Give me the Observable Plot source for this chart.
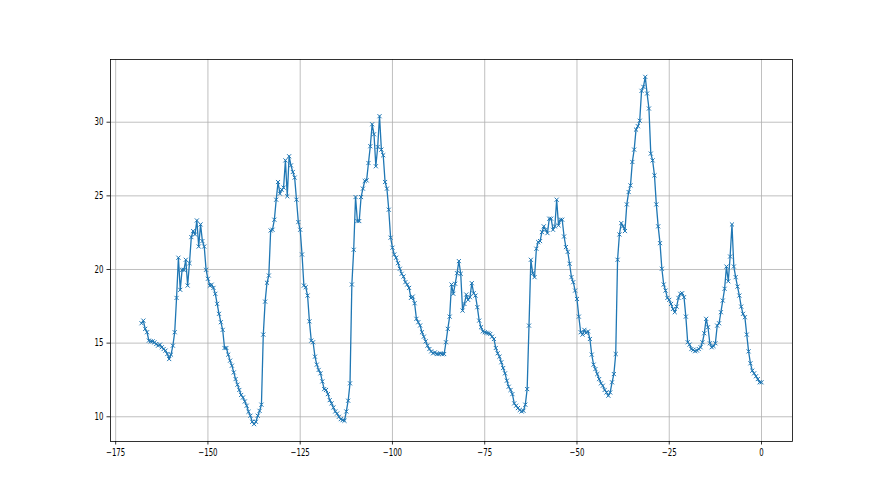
<!DOCTYPE html>
<html>
<head>
<meta charset="utf-8">
<script src="https://cdn.jsdelivr.net/npm/d3@7"></script>
<script src="https://cdn.jsdelivr.net/npm/@observablehq/plot@0.6"></script>
<style>
  html, body { margin: 0; padding: 0; background: #fff; }
  #chart { width: 880px; height: 495px; }
</style>
</head>
<body>
<div id="chart"></div>
<script>
// x positions: hours before now, every half hour
const startHour = -168;
const stepHour = 0.5;

// tick labels
const xTicks = [-175, -150, -125, -100, -75, -50, -25, 0];
const yTicks = [10, 15, 20, 25, 30];

// series values, segment by segment
const seg1 = [16.35, 16.53, 15.97, 15.74, 15.17, 15.12, 15.12, 15.05, 14.94, 14.83, 14.9, 14.72, 14.6, 14.49, 14.26, 13.92, 14.22, 14.83, 15.74, 18.07, 20.8, 18.62, 19.98, 19.98, 20.66, 18.91, 20.43, 22.2, 22.61, 22.38, 23.33, 21.56, 23.06, 21.93, 21.56];
const seg2 = [19.98, 19.37, 18.9, 18.97, 18.75, 18.35, 17.67, 16.99, 16.42, 15.9, 14.67, 14.67, 14.22, 13.81, 13.47, 13.01, 12.56, 12.18, 11.82, 11.48, 11.31, 11.04, 10.75, 10.34, 10.07, 9.66, 9.5, 9.66, 10.07, 10.4, 10.82, 15.58, 17.82, 19.1, 19.59, 22.65];
const seg3 = [22.7, 23.38, 24.74, 25.94, 25.15, 25.42, 25.56, 27.41, 24.97, 27.69, 27.07, 26.62, 26.24, 24.74, 23.22, 22.7, 21.02, 18.91, 18.8, 18.23, 16.48, 15.17, 15.06, 14.08, 13.54, 13.18, 12.95, 12.4, 11.88, 11.82, 11.54, 11.13, 10.91, 10.63, 10.36, 10.22, 10.0, 9.84, 9.77];
const seg4 = [9.73, 10.36, 11.09, 12.27, 18.98, 21.34, 24.92, 23.29, 23.29, 24.92, 25.49, 26.01, 26.05, 27.23, 28.37, 29.86, 29.18, 27.01, 28.32, 30.41, 28.14, 27.76, 25.94, 25.49, 24.06, 22.16, 21.48, 21.02, 20.8, 20.43, 20.05, 19.71, 19.52, 19.14, 18.98, 18.75, 18.07, 18.16, 17.71, 16.65, 16.42, 16.2];
const seg5 = [15.74, 15.44, 15.12, 14.83, 14.6, 14.44, 14.31, 14.37, 14.26, 14.26, 14.31, 14.26, 14.26, 15.06, 15.97, 16.8, 18.98, 18.35, 19.03, 19.75, 20.57, 19.71, 17.21, 17.66, 18.3, 17.94, 18.12, 19.07, 18.39, 18.23, 17.44, 16.53, 16.08, 15.8, 15.74, 15.7, 15.67, 15.62, 15.44, 15.28, 14.67, 14.31, 14.08, 13.7];
const seg6 = [13.31, 12.95, 12.45, 12.04, 11.82, 11.54, 10.91, 10.75, 10.59, 10.46, 10.36, 10.41, 10.82, 11.88, 16.19, 20.66, 19.75, 19.48, 21.41, 21.86, 21.93, 22.54, 22.93, 22.7, 22.47, 23.45, 23.45, 22.7, 22.93, 24.74, 23.0, 23.38, 23.38, 22.24, 21.52, 21.2];
const seg7 = [20.39, 19.48, 19.14, 18.57, 18.0, 16.8, 15.74, 15.58, 15.9, 15.7, 15.8, 15.28, 14.22, 13.54, 13.24, 12.9, 12.56, 12.27, 12.11, 11.82, 11.65, 11.43, 11.65, 12.34, 12.9, 14.26, 20.66, 22.38, 23.15, 22.93, 22.61, 24.42, 25.26, 25.71, 27.3, 28.14, 29.5, 29.73, 30.1, 32.13, 32.4, 33.08];
const seg8 = [31.95, 30.93, 27.87, 27.41, 26.39, 24.42, 22.93, 21.79, 20.05, 18.98, 18.57, 18.07, 17.94, 17.66, 17.32, 17.1, 17.48, 18.07, 18.35, 18.39, 18.12, 16.8, 15.06, 14.9, 14.6, 14.54, 14.45, 14.5, 14.6];
const seg9 = [14.72, 15.06, 15.67, 16.65, 16.08, 14.99, 14.72, 14.8, 14.99, 16.19, 16.35, 17.1, 17.89, 18.69, 20.2, 19.2, 20.88, 23.06, 20.2, 19.48, 18.84, 18.23, 17.48, 16.99, 16.76, 15.58, 14.44, 13.63, 13.13, 12.95, 12.75, 12.56, 12.34, 12.34];

const values = [...seg1, ...seg2, ...seg3, ...seg4, ...seg5, ...seg6, ...seg7, ...seg8, ...seg9];
const data = values.map((v, i) => ({hour: startHour + i * stepHour, value: v}));

// matplotlib-like 5% autoscale margins
const [x0, x1] = d3.extent(data, d => d.hour);
const [y0, y1] = d3.extent(data, d => d.value);
const px = (x1 - x0) * 0.05, py = (y1 - y0) * 0.05;

const fmt = d => (d < 0 ? "\u2212" + Math.abs(d) : String(d));
const gridStyle = {stroke: "#b0b0b0", strokeOpacity: 1, strokeWidth: 0.8};
const axisStyle = {tickSize: 3.5, tickPadding: 3.5, fontSize: 10, strokeWidth: 0.8, label: null, tickFormat: fmt, stroke: "black", fill: "black"};

const chart = Plot.plot({
  width: 880,
  height: 495,
  marginLeft: 110,
  marginRight: 88,
  marginTop: 59,
  marginBottom: 54,
  style: {fontFamily: "'DejaVu Sans', sans-serif", fontSize: "10px", background: "white", color: "black"},
  x: {domain: [x0 - px, x1 + px]},
  y: {domain: [y0 - py, y1 + py]},
  marks: [
    Plot.gridX(xTicks, gridStyle),
    Plot.gridY(yTicks, gridStyle),
    Plot.line(data, {x: "hour", y: "value", stroke: "#1f77b4", strokeWidth: 1.3}),
    Plot.dot(data, {x: "hour", y: "value", symbol: "times", r: 2, stroke: "#1f77b4", strokeWidth: 1}),
    Plot.frame({stroke: "black", strokeWidth: 0.8}),
    Plot.axisX(xTicks, axisStyle),
    Plot.axisY(yTicks, axisStyle)
  ]
});
document.getElementById("chart").appendChild(chart);

// narrow tick-label glyphs, as in the reference
d3.select(chart).selectAll('g[aria-label$="tick label"] text').each(function () {
  const t = this.getAttribute("transform") || "";
  this.setAttribute("transform", t + " scale(0.7,1)");
});
</script>
</body>
</html>
